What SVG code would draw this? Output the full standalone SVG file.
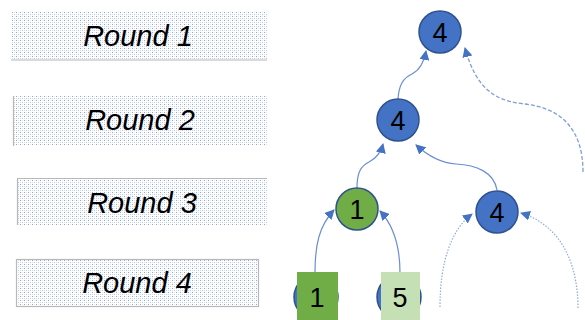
<svg xmlns="http://www.w3.org/2000/svg" width="585" height="320" viewBox="0 0 585 320">
<defs>
<pattern id="dots" width="4" height="4" patternUnits="userSpaceOnUse">
<rect width="4" height="4" fill="#ffffff"/>
<rect x="0" y="0" width="1" height="1" fill="#8fa6dc"/>
<rect x="2" y="2" width="1" height="1" fill="#b9c8ee"/>
<rect x="0" y="2" width="1" height="1" fill="#d0daf4"/>
<rect x="2" y="0" width="1" height="1" fill="#e2e8f8"/>
</pattern>
<marker id="arr" viewBox="0 0 10 10" refX="9" refY="5" markerWidth="10" markerHeight="10" markerUnits="userSpaceOnUse" orient="auto">
<path d="M0,0 L10,5 L0,10 Z" fill="#4472c4"/>
</marker>
</defs>
<style>
.rbox{fill:url(#dots);}
.edge{stroke:#b8b8b8;stroke-width:1.2;fill:none;}
.rlabel{font-family:"Liberation Sans",Arial,sans-serif;font-style:italic;font-size:29px;fill:#000;text-anchor:middle;}
.nlabel{font-family:"Liberation Sans",Arial,sans-serif;font-size:27px;fill:#000;text-anchor:middle;}
.blue{fill:#4472c4;stroke:#2f528f;stroke-width:1.5;}
.green{fill:#70ad47;stroke:#2f528f;stroke-width:1.5;}
.conn{fill:none;stroke:#6a8fd4;stroke-width:1.2;}
.dash{fill:none;stroke:#7f9dd8;stroke-width:1.3;stroke-dasharray:4 2;}
.dot{fill:none;stroke:#8fa9dc;stroke-width:1.2;stroke-dasharray:1.5 1.5;}
</style>

<g id="round1">
<rect class="rbox" x="11" y="12" width="256" height="48"/>
<line class="edge" x1="11" y1="60" x2="267" y2="60"/>
<text class="rlabel" x="138" y="46">Round 1</text>
</g>
<g id="round2">
<rect class="rbox" x="13" y="96" width="254" height="50"/>
<line class="edge" x1="13.5" y1="96" x2="13.5" y2="146"/>
<text class="rlabel" x="140" y="130">Round 2</text>
</g>
<g id="round3">
<rect class="rbox" x="17" y="178" width="250" height="47"/>
<polyline class="edge" points="17.5,225 17.5,178.5 267,178.5"/>
<text class="rlabel" x="142" y="213">Round 3</text>
</g>
<g id="round4">
<rect class="rbox" x="16" y="259" width="243" height="48"/>
<rect class="edge" x="16.5" y="259.5" width="242" height="47"/>
<text class="rlabel" x="137" y="293">Round 4</text>
</g>

<g id="connectors">
<path class="conn" d="M398,99 C399,85 403,78 412,74 C420,70 424,62 426,51" marker-end="url(#arr)"/>
<path class="dash" d="M583,172 C583,128 560,108 525,104 C494,101 476,88 465,48" marker-end="url(#arr)"/>
<path class="conn" d="M357,188 C357,172 361,166 369,162 C377,158 381,152 383,144" marker-end="url(#arr)"/>
<path class="conn" d="M497,190 C494,172 476,165 456,164 C440,163 427,155 416,145" marker-end="url(#arr)"/>
<path class="conn" d="M315,273 C315,245 319,226 334,210" marker-end="url(#arr)"/>
<path class="conn" d="M400,273 C400,246 394,226 380,211" marker-end="url(#arr)"/>
<path class="dot" d="M440,307 C440,262 451,230 472,214" marker-end="url(#arr)"/>
<path class="dot" d="M578,308 C578,262 560,225 521,213" marker-end="url(#arr)"/>
</g>

<g id="n_top">
<circle class="blue" cx="440" cy="32" r="21"/>
<text class="nlabel" x="440" y="42">4</text>
</g>
<g id="n_r2">
<circle class="blue" cx="398" cy="120" r="21"/>
<text class="nlabel" x="398" y="130">4</text>
</g>
<g id="n_r3a">
<circle class="green" cx="357" cy="209" r="21"/>
<text class="nlabel" x="357" y="219">1</text>
</g>
<g id="n_r3b">
<circle class="blue" cx="497" cy="212" r="21"/>
<text class="nlabel" x="497" y="222">4</text>
</g>
<g id="n_r4a">
<circle class="blue" cx="316" cy="297" r="22"/>
<rect x="297" y="272" width="41" height="50" fill="#70ad47"/>
<text class="nlabel" x="317" y="307">1</text>
</g>
<g id="n_r4b">
<circle class="blue" cx="399" cy="297" r="22"/>
<rect x="381" y="272" width="39" height="50" fill="#c5e0b4"/>
<text class="nlabel" x="400" y="307">5</text>
</g>
</svg>
